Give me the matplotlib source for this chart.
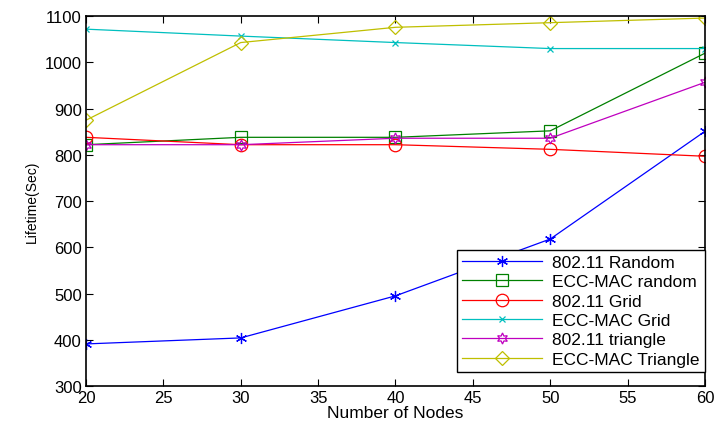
import matplotlib
matplotlib.use('Agg')
import matplotlib.pyplot as plt

plt.rcParams['font.family'] = ['Liberation Sans', 'DejaVu Sans']

# data
nodes = [20, 30, 40, 50, 60]
random_80211 = [391, 404, 495, 618, 851]
random_ecc = [822, 838, 838, 852, 1020]
grid_80211 = [838, 822, 822, 812, 797]
grid_ecc = [1072, 1057, 1043, 1030, 1030]
tri_80211 = [822, 822, 836, 836, 957]
tri_ecc = [875, 1043, 1076, 1086, 1096]

labels = ['802.11 Random', 'ECC-MAC random', '802.11 Grid',
          'ECC-MAC Grid', '802.11 triangle', 'ECC-MAC Triangle']
series = [random_80211, random_ecc, grid_80211, grid_ecc, tri_80211, tri_ecc]
colors = ['#0000ff', '#008000', '#ff0000', '#00bfbf', '#bf00bf', '#bfbf00']
markers = [(6, 2, 0), 's', 'o', 'x', (6, 1, 0), 'D']
msizes = [8, 8, 9, 5, 8, 7]

fig = plt.figure(figsize=(7.14, 4.27), dpi=100)
ax = fig.add_axes([0.1204, 0.0937, 0.867, 0.866])

for ys, lab, c, m, ms in zip(series, labels, colors, markers, msizes):
    ax.plot(nodes, ys, color=c, marker=m, markersize=ms, markerfacecolor='none',
            markeredgecolor=c, linewidth=0.9, markeredgewidth=0.9, label=lab)

ax.set_xlim(20, 60)
ax.set_ylim(300, 1100)
ax.set_xticks(range(20, 61, 5))
ax.set_yticks(range(300, 1101, 100))
ax.tick_params(direction='in', top=True, right=True, labelsize=12, length=5, pad=3)
for sp in ax.spines.values():
    sp.set_linewidth(1.2)

ax.set_xlabel('Number of Nodes', fontsize=12.5, labelpad=0)
ax.set_ylabel('Lifetime(Sec)', fontsize=10, labelpad=4)

leg = ax.legend(loc='lower right', fontsize=12.5, fancybox=False, framealpha=1,
                edgecolor='black', borderpad=0.3, labelspacing=0.24,
                handlelength=4.6, handletextpad=0.6, borderaxespad=0,
                bbox_to_anchor=(1.0, 0.038))
leg.get_frame().set_linewidth(1.0)

fig.savefig('out.png', dpi=100)
